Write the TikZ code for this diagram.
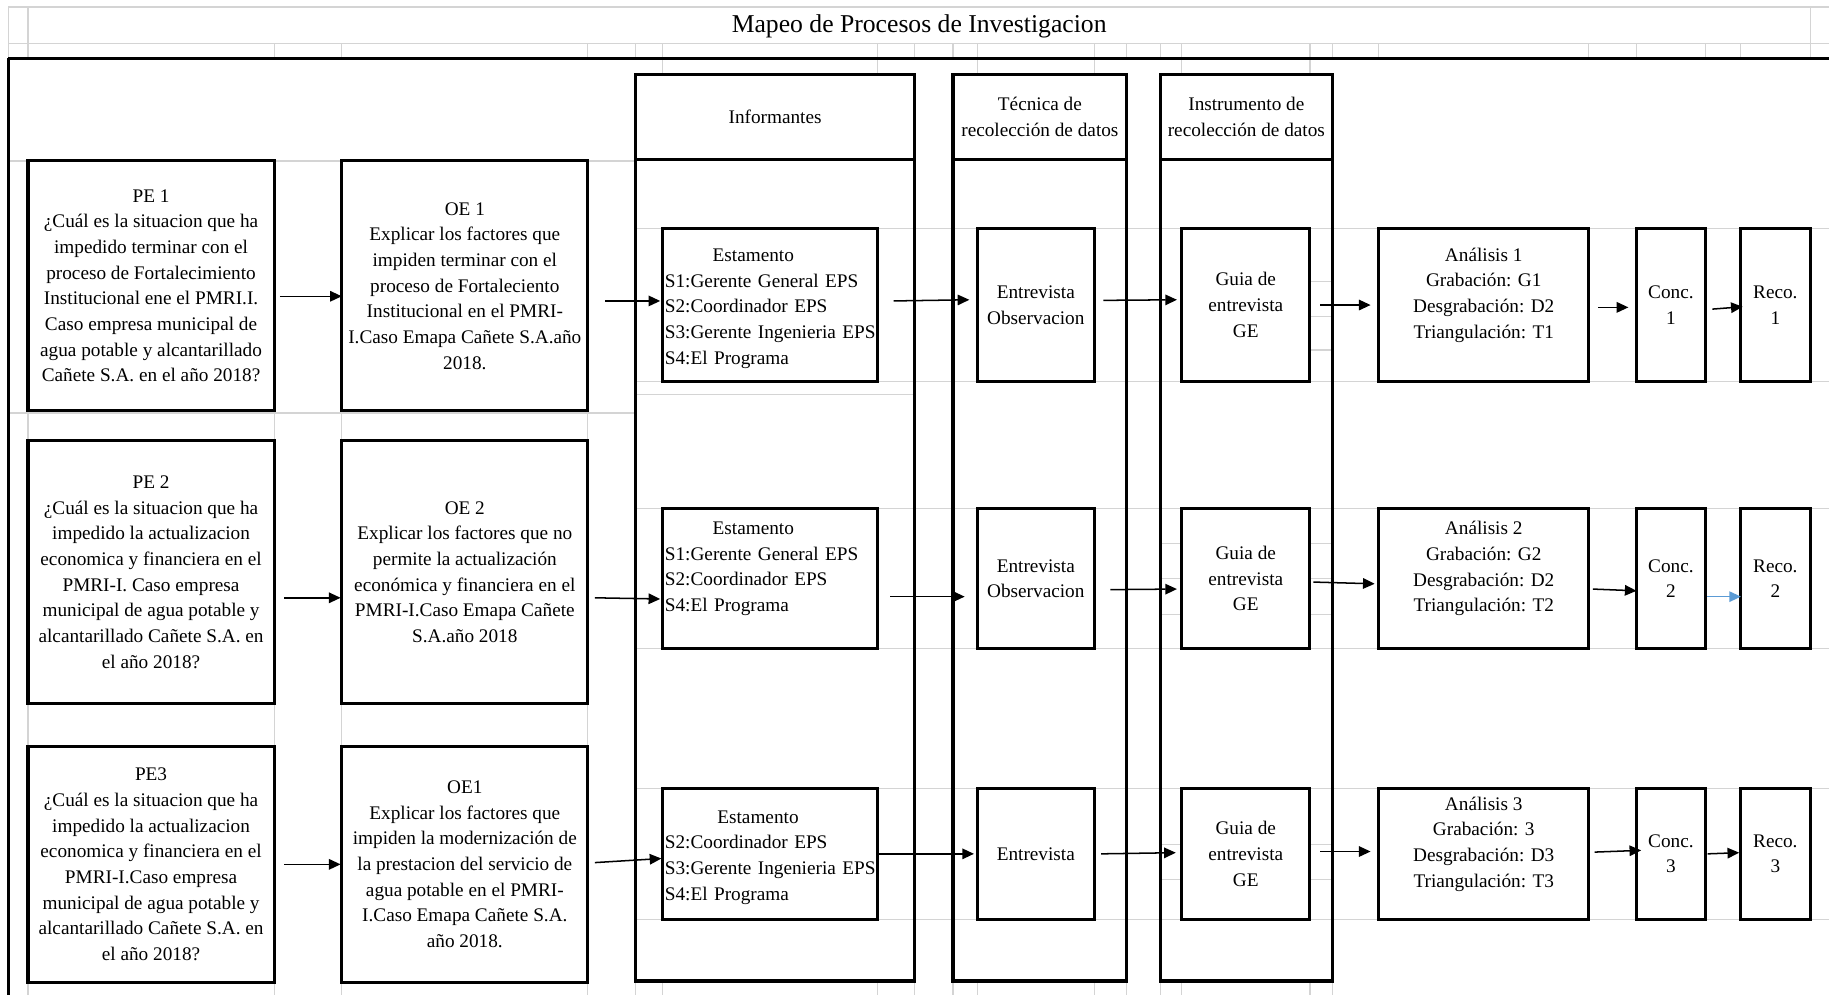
\documentclass[tikz,border=0pt]{standalone}
\usepackage{fontspec}
\setmainfont{Liberation Serif}
\usetikzlibrary{arrows.meta}
\definecolor{gridgray}{RGB}{212,212,212}
\definecolor{xlblue}{RGB}{91,155,213}
\newcommand\bxf{\fontsize{16.5}{22}\selectfont}
\begin{document}
\begin{tikzpicture}[x=1pt,y=-1pt,
  gridln/.style={gridgray, line width=1pt},
  bx/.style={draw, line width=2.6pt, inner sep=2pt, outer sep=0pt, align=center, font=\bxf},
  est/.style={bx, align=left, text width=180pt, inner xsep=2pt, minimum width=184pt},
  arr/.style={line width=1.3pt, -{Triangle[length=10pt,width=9pt]}},
  thick line/.style={line width=2.6pt}
]
\useasboundingbox (0,0) rectangle (1568,853);
% ---------- spreadsheet grid lines ----------
\draw[gridln] (7,6) -- (1568,6);
\draw[gridln] (7,37) -- (1568,37);
\foreach \x in {7,24,1552} \draw[gridln] (\x,6) -- (\x,50);
\foreach \x in {235,293,504,545,568,752,784,817,838,938,966,995,1013,1123,1142,1182,1362,1403,1462,1492}
  \draw[gridln] (\x,37) -- (\x,50);
\foreach \x in {568,752,838,938,1013,1123} \draw[gridln] (\x,50) -- (\x,64);
\draw[gridln] (7,138) -- (545,138);
\draw[gridln] (7,354) -- (545,354);
\foreach \x in {24,235,293,504} \draw[gridln] (\x,138) -- (\x,853);
\foreach \y in {196,327,436,556,676,788} \draw[gridln] (545,\y) -- (1568,\y);
\draw[gridln] (545,338) -- (784,338);
\foreach \y in {241,271,300} \draw[gridln] (1123,\y) -- (1142,\y);
\foreach \y in {466,496,527,724,754} {\draw[gridln] (995,\y) -- (1013,\y); \draw[gridln] (1123,\y) -- (1142,\y);}
\foreach \x in {545,568,752,784,817,838,938,966,995,1013,1123,1142} \draw[gridln] (\x,841) -- (\x,853);
% ---------- title and frame ----------
\node[font=\fontsize{22}{26}\selectfont] (title) at (788,23) {Mapeo de Procesos de Investigacion};
\draw[thick line] (7,50) -- (1568,50);
\draw[thick line] (7,50) -- (7,853);
% ---------- columns ----------
\node[bx, minimum width=239pt, minimum height=73pt] (infH) at (664.5,100.5) {Informantes};
\node[bx, minimum width=239pt, minimum height=704pt] (infB) at (664.5,489) {};
\node[bx, minimum width=149pt, minimum height=73pt] (tecH) at (891.5,100.5) {Técnica de\\recolección de datos};
\node[bx, minimum width=149pt, minimum height=704pt] (tecB) at (891.5,489) {};
\node[bx, minimum width=147pt, minimum height=73pt] (insH) at (1068.5,100.5) {Instrumento de\\recolección de datos};
\node[bx, minimum width=147pt, minimum height=704pt] (insB) at (1068.5,489) {};
% ---------- row 1 ----------
\node[bx, minimum width=211pt, minimum height=214pt] (PE1) at (129.5,245) {PE 1\\¿Cuál es la situacion que ha\\impedido terminar con el\\proceso de Fortalecimiento\\Institucional ene el PMRI.I.\\Caso empresa municipal de\\agua potable y alcantarillado\\Cañete S.A. en el año 2018?};
\node[bx, minimum width=211pt, minimum height=214pt] (OE1) at (398.5,245) {OE 1\\Explicar los factores que\\impiden terminar con el\\proceso de Fortaleciento\\Institucional en el PMRI-\\I.Caso Emapa Cañete S.A.año\\2018.};
\node[est, minimum height=131pt] (Est1) at (660,261.5) {\rule{0pt}{17pt}\hspace*{41pt}Estamento\\\mbox{S1:Gerente General EPS}\\\mbox{S2:Coordinador EPS}\\\mbox{S3:Gerente Ingenieria EPS}\\\mbox{S4:El Programa}};
\node[bx, minimum width=100pt, minimum height=131pt] (Ent1) at (888,261.5) {Entrevista\\Observacion};
\node[bx, minimum width=110pt, minimum height=131pt] (Gui1) at (1068,261.5) {Guia de\\entrevista\\GE};
\node[bx, minimum width=180pt, minimum height=131pt] (An1) at (1272,261.5) {Análisis 1\\Grabación: G1\\Desgrabación: D2\\Triangulación: T1\\[-8pt]\strut};
\node[bx, minimum width=59pt, minimum height=131pt] (Con1) at (1432.5,261.5) {Conc.\\1};
\node[bx, minimum width=60pt, minimum height=131pt] (Rec1) at (1522,261.5) {Reco.\\1};
% ---------- row 2 ----------
\node[bx, minimum width=211pt, minimum height=225pt] (PE2) at (129.5,490.5) {PE 2\\¿Cuál es la situacion que ha\\impedido la actualizacion\\economica y financiera en el\\PMRI-I. Caso empresa\\municipal de agua potable y\\alcantarillado Cañete S.A. en\\el año 2018?};
\node[bx, minimum width=211pt, minimum height=225pt] (OE2) at (398.5,490.5) {OE 2\\Explicar los factores que no\\permite la actualización\\económica y financiera en el\\PMRI-I.Caso Emapa Cañete\\S.A.año 2018};
\node[est, minimum height=120pt] (Est2) at (660,496) {\hspace*{41pt}Estamento\\\mbox{S1:Gerente General EPS}\\\mbox{S2:Coordinador EPS}\\\mbox{S4:El Programa}\\[-8pt]\strut};
\node[bx, minimum width=100pt, minimum height=120pt] (Ent2) at (888,496) {Entrevista\\Observacion};
\node[bx, minimum width=110pt, minimum height=120pt] (Gui2) at (1068,496) {Guia de\\entrevista\\GE};
\node[bx, minimum width=180pt, minimum height=120pt] (An2) at (1272,496) {Análisis 2\\Grabación: G2\\Desgrabación: D2\\Triangulación: T2\\[-8pt]\strut};
\node[bx, minimum width=59pt, minimum height=120pt] (Con2) at (1432.5,496) {Conc.\\2};
\node[bx, minimum width=60pt, minimum height=120pt] (Rec2) at (1522,496) {Reco.\\2};
% ---------- row 3 ----------
\node[bx, minimum width=211pt, minimum height=202pt] (PE3) at (129.5,741) {PE3\\¿Cuál es la situacion que ha\\impedido la actualizacion\\economica y financiera en el\\PMRI-I.Caso empresa\\municipal de agua potable y\\alcantarillado Cañete S.A. en\\el año 2018?};
\node[bx, minimum width=211pt, minimum height=202pt] (OE3) at (398.5,741) {OE1\\Explicar los factores que\\impiden la modernización de\\la prestacion del servicio de\\agua potable en el PMRI-\\I.Caso Emapa Cañete S.A.\\año 2018.};
\node[est, minimum height=112pt] (Est3) at (660,732) {\rule{0pt}{17pt}\hspace*{45pt}Estamento\\\mbox{S2:Coordinador EPS}\\\mbox{S3:Gerente Ingenieria EPS}\\\mbox{S4:El Programa}};
\node[bx, minimum width=100pt, minimum height=112pt] (Ent3) at (888,732) {Entrevista};
\node[bx, minimum width=110pt, minimum height=112pt] (Gui3) at (1068,732) {Guia de\\entrevista\\GE};
\node[bx, minimum width=180pt, minimum height=112pt] (An3) at (1272,732) {Análisis 3\\Grabación: 3\\Desgrabación: D3\\Triangulación: T3\\[-8pt]\strut};
\node[bx, minimum width=59pt, minimum height=112pt] (Con3) at (1432.5,732) {Conc.\\3};
\node[bx, minimum width=60pt, minimum height=112pt] (Rec3) at (1522,732) {Reco.\\3};
% ---------- arrows row 1 ----------
\draw[arr] ([shift={(5,9)}]PE1.east) -- ([shift={(0,9)}]OE1.west);
\draw[arr] ([shift={(15,13)}]OE1.east) -- ([shift={(-2,-3.5)}]Est1.west);
\draw[arr] ([shift={(14,-3.5)}]Est1.east) -- ([shift={(-7,-4.5)}]Ent1.west);
\draw[arr] ([shift={(8,-4)}]Ent1.east) -- ([shift={(-4,-4.5)}]Gui1.west);
\draw[arr] ([shift={(9,0)}]Gui1.east) -- ([shift={(-7,0)}]An1.west);
\draw[arr] ([shift={(8,2)}]An1.east) -- ([shift={(-7,2)}]Con1.west);
\draw[arr] ([shift={(6,3.5)}]Con1.east) -- ([shift={(2,1.5)}]Rec1.west);
% ---------- arrows row 2 ----------
\draw[arr] ([shift={(8.5,22)}]PE2.east) -- ([shift={(-1,22)}]OE2.west);
\draw[arr] ([shift={(6,22)}]OE2.east) -- ([shift={(-2,17.5)}]Est2.west);
\draw[arr] ([shift={(11,15.5)}]Est2.east) -- ([shift={(-11,15.5)}]Ent2.west);
\draw[arr] ([shift={(14,9.5)}]Ent2.east) -- ([shift={(-4,9)}]Gui2.west);
\draw[arr] ([shift={(3,3)}]Gui2.east) -- ([shift={(-3.5,4.5)}]An2.west);
\draw[arr] ([shift={(3.5,9)}]An2.east) -- ([shift={(0,10.5)}]Con2.west);
\draw[arr, xlblue] ([shift={(1.5,15.5)}]Con2.east) -- ([shift={(0.5,15.5)}]Rec2.west);
% ---------- arrows row 3 ----------
\draw[arr] ([shift={(8.5,0)}]PE3.east) -- ([shift={(-1,0)}]OE3.west);
\draw[arr] ([shift={(6,-1.5)}]OE3.east) -- ([shift={(-1,4)}]Est3.west);
\draw[arr] ([shift={(1.5,0)}]Est3.east) -- ([shift={(-3,0)}]Ent3.west);
\draw[arr] ([shift={(6,0)}]Ent3.east) -- ([shift={(-5,-1)}]Gui3.west);
\draw[arr] ([shift={(9,-2)}]Gui3.east) -- ([shift={(-7,-2)}]An3.west);
\draw[arr] ([shift={(5,-1.5)}]An3.east) -- ([shift={(4,-3)}]Con3.west);
\draw[arr] ([shift={(2,0)}]Con3.east) -- ([shift={(-1,-1)}]Rec3.west);
\end{tikzpicture}
\end{document}
